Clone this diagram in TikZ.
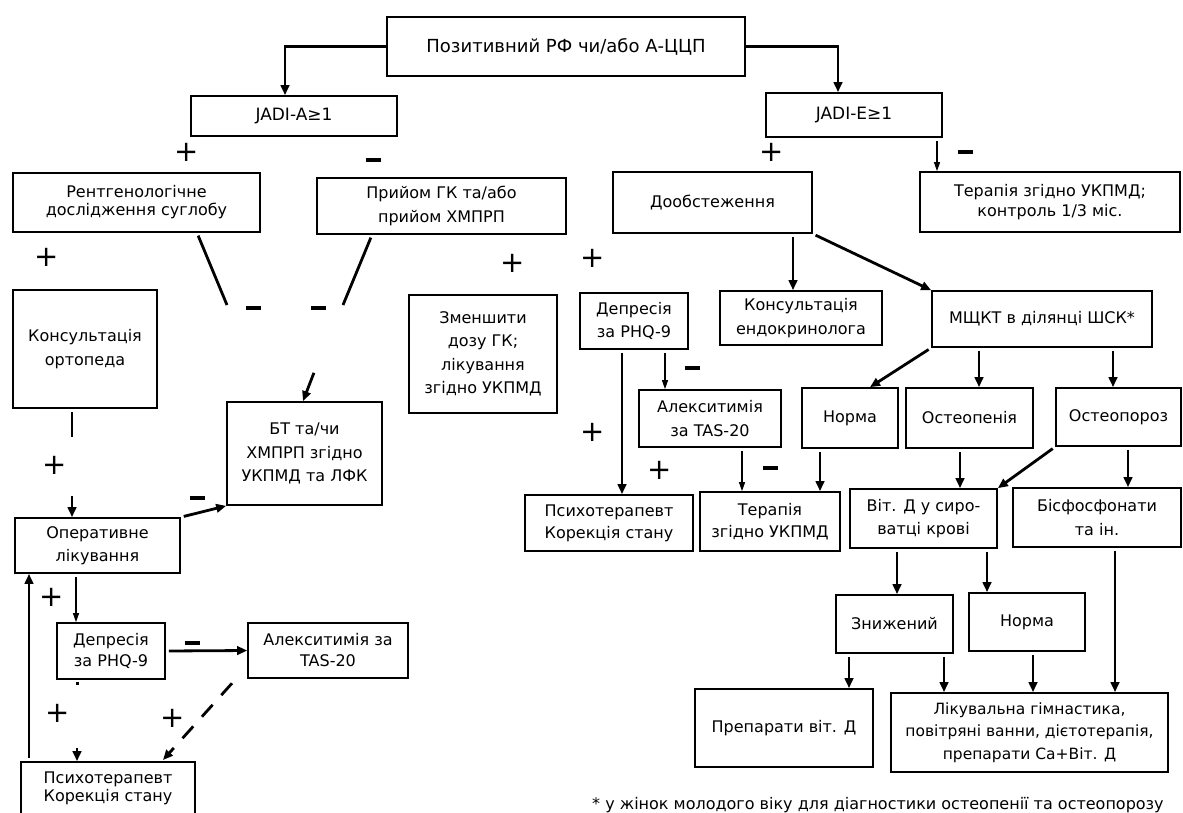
\documentclass[tikz,border=0pt]{standalone}
\usepackage{fontspec}
\setmainfont{DejaVu Sans}
\usetikzlibrary{arrows.meta}
\newcommand\mkbox[7][]{\node[box,#1,minimum width={(#5-#3)*1pt},minimum height={(#6-#4)*1pt}] (#2) at ({(#3+#5)/2},{(#4+#6)/2}) {#7};}
\newcommand\mnsbar{\rule{15pt}{3.2pt}}
\begin{document}
\begin{tikzpicture}[x=1pt,y=-1pt,
 box/.style={draw,line width=1.7pt,inner sep=0pt,align=center,font=\fontsize{16}{23.5}\selectfont},
 arr/.style={line width=2.8pt,shorten <=3pt,-{Triangle[length=10pt,width=8.5pt]}},
 thinarr/.style={line width=1.1pt,shorten <=3pt,-{Triangle[length=9pt,width=6pt]}},
 ln/.style={line width=2.8pt,shorten <=3pt},
 sgn/.style={font=\fontsize{29}{29}\selectfont,inner sep=0pt},
 mns/.style={inner sep=0pt}]
\useasboundingbox[fill=white] (0,0) rectangle (1183,812);
% boxes
\mkbox[font=\fontsize{18}{22}\selectfont]{A}{387}{17}{745}{76}{Позитивний РФ чи/або А-ЦЦП}
\mkbox[font=\fontsize{17}{20}\selectfont]{JA}{191}{96}{397}{136}{JADI-A≥1}
\mkbox[font=\fontsize{17}{20}\selectfont]{JE}{766}{93}{942}{137}{JADI-E≥1}
\mkbox[font=\fontsize{16}{18}\selectfont]{R}{13}{173}{260}{232}{Рентгенологічне\\дослідження суглобу}
\mkbox{P}{317}{178}{566}{234}{Прийом ГК та/або\\прийом ХМПРП}
\mkbox{D}{613}{172}{812}{233}{Дообстеження}
\mkbox[font=\fontsize{16}{20.5}\selectfont]{T1}{920}{172}{1180}{232}{Терапія згідно УКПМД;\\контроль 1/3 міс.}
\mkbox{K}{13}{290}{157}{408}{Консультація\\ортопеда}
\mkbox{Z}{409}{295}{557}{413}{Зменшити\\дозу ГК;\\лікування\\згідно УКПМД}
\mkbox{D3}{580}{293}{688}{349}{Депресія\\за PHQ-9}
\mkbox{K2}{720}{291}{882}{345}{Консультація\\ендокринолога}
\mkbox{M}{932}{291}{1152}{347}{МЩКТ в ділянці ШСК*}
\mkbox{B}{227}{402}{382}{505}{БТ та/чи\\ХМПРП згідно\\УКПМД та ЛФК}
\mkbox{Al2}{639}{390}{781}{447}{Алекситимія\\за TAS-20}
\mkbox{N1}{802}{388}{898}{448}{Норма}
\mkbox{Op}{906}{388}{1033}{448}{Остеопенія}
\mkbox{Os}{1056}{388}{1181}{446}{Остеопороз}
\mkbox{V}{850}{489}{997}{548}{Віт. Д у сиро-\\ватці крові}
\mkbox{Bs}{1013}{488}{1181}{547}{Бісфосфонати\\та ін.}
\mkbox{O}{15}{518}{180}{573}{Оперативне\\лікування}
\mkbox[font=\fontsize{16}{22}\selectfont]{Psy2}{525}{495}{693}{551}{Психотерапевт\\Корекція стану}
\mkbox[font=\fontsize{16}{22}\selectfont]{T2}{700}{492}{840}{551}{Терапія\\згідно УКПМД}
\mkbox{Zn}{836}{595}{953}{653}{Знижений}
\mkbox{N2}{969}{593}{1085}{651}{Норма}
\mkbox[font=\fontsize{16}{21}\selectfont]{D2}{57}{623}{165}{679}{Депресія\\за PHQ-9}
\mkbox[font=\fontsize{16}{21}\selectfont]{Al}{248}{623}{408}{678}{Алекситимія за\\TAS-20}
\mkbox{Pr}{695}{689}{873}{767}{Препарати віт. Д}
\mkbox[font=\fontsize{15.5}{22.5}\selectfont]{L}{891}{693}{1168}{772}{Лікувальна гімнастика,\\повітряні ванни, дієтотерапія,\\препарати Са+Віт. Д}
\mkbox[font=\fontsize{16}{18}\selectfont]{Psy}{21}{762}{195}{814}{Психотерапевт\\Корекція стану}
\node[font=\fontsize{16}{18}\selectfont,anchor=base west,inner sep=0pt] (fn) at (592,809) {* у жінок молодого віку для діагностики остеопенії та остеопорозу};
% x positions
\foreach \xx in {285,838,937,197,372,303,72,29,76,77,622,665,742,820,793,870,979,1113,960,1128,897,987,849,944,1033,1115}
  {\coordinate (x\xx) at (\xx,0);}
\coordinate (m1) at (227,305);
\coordinate (m2) at (343,305);
\coordinate (a7) at (315,370);
\coordinate (k1) at (72,437);
\coordinate (k2) at (72,493);
\coordinate (p13) at (77,745);
\coordinate (dEnd) at (163,760);
\coordinate (dStart) at (234,681);
% connectors
\draw[arr,shorten <=0pt] (A.west) -| (JA.north -| x285);
\draw[arr,shorten <=0pt] (A.east) -| (JE.north -| x838);
\draw[thinarr] (JE.south -| x937) -- (T1.north -| x937);
\draw[ln] (R.south -| x197) -- (m1);
\draw[ln] (P.south -| x372) -- (m2);
\draw[arr] (a7) -- (B.north -| x303);
\draw[ln] (K.south -| x72) -- (k1);
\draw[arr] (k2) -- (O.north -| x72);
\draw[arr] (O.north east) -- (B.south west);
\draw[arr] (Psy.north -| x29) -- (O.south -| x29);
\draw[thinarr] (O.south -| x76) -- (D2.north -| x76);
\draw[arr] (D2.east) -- (Al.west);
\fill (75.5,681.5) rectangle (79,685);
\draw[arr] (p13) -- (Psy.north -| x77);
\draw[arr,dash pattern=on 16pt off 13pt] (dStart) -- (dEnd);
\draw[arr] (D3.south -| x622) -- (Psy2.north -| x622);
\draw[thinarr] (D3.south -| x665) -- (Al2.north -| x665);
\draw[thinarr] (Al2.south -| x742) -- (T2.north -| x742);
\draw[arr] (N1.south -| x820) -- (T2.north -| x820);
\draw[arr] (D.south -| x793) -- (K2.north -| x793);
\draw[arr] (D.south east) -- (M.north west);
\draw[arr] (M.south west) -- (N1.north -| x870);
\draw[arr] (M.south -| x979) -- (Op.north -| x979);
\draw[arr] (M.south -| x1113) -- (Os.north -| x1113);
\draw[arr] (Op.south -| x960) -- (V.north -| x960);
\draw[arr] (Os.south west) -- (V.north east);
\draw[arr] (Os.south -| x1128) -- (Bs.north -| x1128);
\draw[arr] (V.south -| x897) -- (Zn.north -| x897);
\draw[arr] (V.south -| x987) -- (N2.north -| x987);
\draw[arr] (Zn.south -| x849) -- (Pr.north -| x849);
\draw[arr] (Zn.south -| x944) -- (L.north -| x944);
\draw[arr] (N2.south -| x1033) -- (L.north -| x1033);
\draw[arr] (Bs.south -| x1115) -- (L.north -| x1115);
% signs
\node[sgn] (s1) at (187,152) {+};
\node[mns] (s2) at (373,160) {\mnsbar};
\node[sgn] (s3) at (772,152) {+};
\node[mns] (s4) at (965,152) {\mnsbar};
\node[sgn] (s5) at (47,257) {+};
\node[mns] (s6) at (253,308) {\mnsbar};
\node[mns] (s7) at (318,308) {\mnsbar};
\node[sgn] (s8) at (513,263) {+};
\node[sgn] (s9) at (593,258) {+};
\node[mns] (s10) at (197,498) {\mnsbar};
\node[sgn] (s11) at (55,465) {+};
\node[mns] (s12) at (692,368) {\mnsbar};
\node[sgn] (s13) at (593,432) {+};
\node[sgn] (s14) at (660,470) {+};
\node[mns] (s15) at (770,468) {\mnsbar};
\node[sgn] (s16) at (52,597) {+};
\node[mns] (s17) at (192,643) {\mnsbar};
\node[sgn] (s18) at (58,713) {+};
\node[sgn] (s19) at (173,718) {+};
\end{tikzpicture}
\end{document}
